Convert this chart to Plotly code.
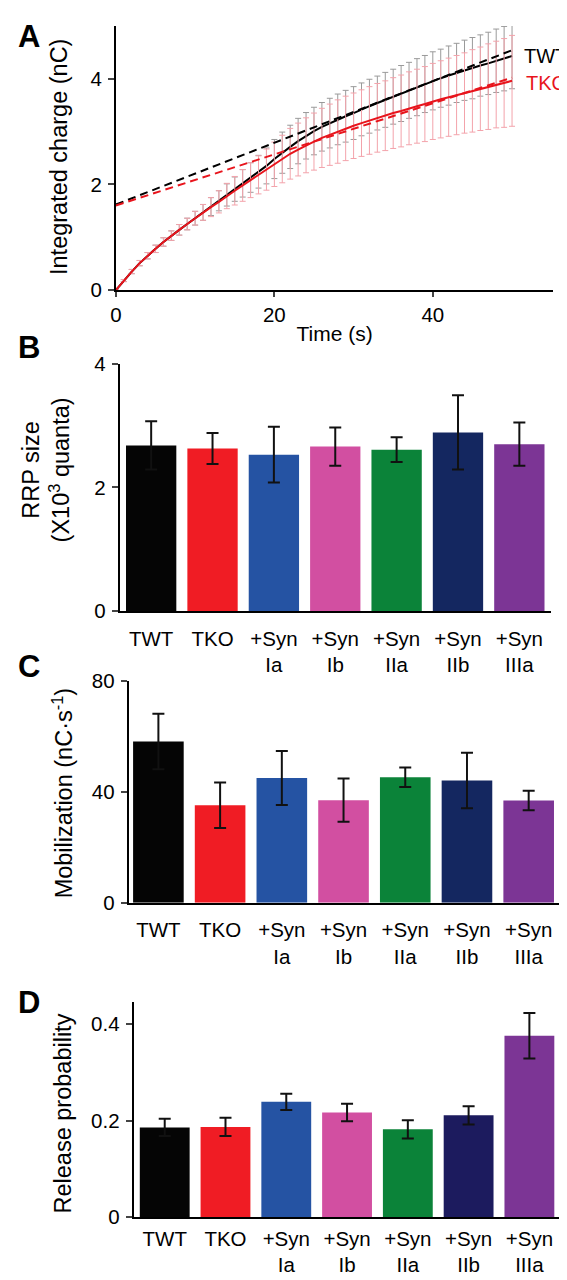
import plotly.graph_objects as go

# ---------------- Panel A data ----------------
time_s = list(range(51))
twt_mean = [0, 0.18, 0.35, 0.51, 0.65, 0.78, 0.91, 1.03, 1.14, 1.25,
            1.36, 1.47, 1.58, 1.69, 1.80, 1.91, 2.02, 2.13, 2.24, 2.35,
            2.48, 2.60, 2.71, 2.82, 2.92, 3.01, 3.09, 3.16, 3.23, 3.29,
            3.35, 3.42, 3.48, 3.54, 3.60, 3.66, 3.72, 3.78, 3.84, 3.90,
            3.96, 4.01, 4.06, 4.11, 4.16, 4.20, 4.25, 4.29, 4.34, 4.38, 4.43]
twt_sem = [0, 0.02, 0.04, 0.05, 0.06, 0.07, 0.08, 0.09, 0.10, 0.11,
           0.13, 0.15, 0.17, 0.19, 0.21, 0.23, 0.26, 0.28, 0.31, 0.34,
           0.37, 0.39, 0.41, 0.43, 0.44, 0.45, 0.46, 0.47, 0.48, 0.49,
           0.50, 0.50, 0.51, 0.51, 0.52, 0.52, 0.53, 0.53, 0.54, 0.54,
           0.55, 0.55, 0.56, 0.56, 0.57, 0.58, 0.58, 0.59, 0.60, 0.61, 0.62]
tko_mean = [0, 0.18, 0.35, 0.51, 0.65, 0.78, 0.91, 1.03, 1.14, 1.25,
            1.36, 1.47, 1.57, 1.67, 1.78, 1.88, 1.98, 2.08, 2.18, 2.28,
            2.38, 2.48, 2.58, 2.66, 2.74, 2.81, 2.88, 2.94, 3.00, 3.06,
            3.11, 3.16, 3.21, 3.26, 3.30, 3.35, 3.39, 3.44, 3.48, 3.52,
            3.57, 3.61, 3.65, 3.69, 3.73, 3.77, 3.81, 3.85, 3.89, 3.92, 3.96]
tko_sem = [0, 0.02, 0.04, 0.05, 0.06, 0.07, 0.08, 0.09, 0.10, 0.11,
           0.13, 0.15, 0.18, 0.21, 0.24, 0.27, 0.30, 0.33, 0.36, 0.39,
           0.42, 0.45, 0.48, 0.50, 0.52, 0.54, 0.56, 0.58, 0.60, 0.61,
           0.62, 0.63, 0.64, 0.65, 0.66, 0.67, 0.68, 0.69, 0.70, 0.71,
           0.72, 0.73, 0.74, 0.75, 0.76, 0.78, 0.79, 0.81, 0.82, 0.84, 0.86]
fit_t = [0, 50]
twt_fit = [1.62, 4.54]
tko_fit = [1.60, 4.02]

# ---------------- Bar panels data ----------------
groups = ["TWT", "TKO", "+Syn<br>Ia", "+Syn<br>Ib", "+Syn<br>IIa", "+Syn<br>IIb", "+Syn<br>IIIa"]
group_pos = [0, 1, 2, 3, 4, 5, 6]
bar_colors = ["#050505", "#f01c24", "#2553a3", "#d24fa1", "#0b8339", "#142760", "#7c3595"]
bar_colors_d = ["#050505", "#f01c24", "#2553a3", "#d24fa1", "#0b8339", "#1c1b5e", "#7c3595"]
rrp_size = [2.68, 2.63, 2.53, 2.66, 2.61, 2.89, 2.70]
rrp_err = [0.39, 0.25, 0.45, 0.31, 0.20, 0.60, 0.35]
mobilization = [58.2, 35.2, 45.0, 37.0, 45.3, 44.1, 36.9]
mobilization_err = [10.0, 8.2, 9.7, 7.8, 3.5, 10.0, 3.5]
release_prob = [0.186, 0.187, 0.239, 0.217, 0.182, 0.211, 0.376]
release_prob_err = [0.018, 0.019, 0.017, 0.018, 0.019, 0.019, 0.047]

W, H = 567, 1280
FONT = "Liberation Sans, Arial, sans-serif"
TICK = 20.5
TITLE = 23.5


def px_x(p):
    return p / W


def px_y(p):
    return 1 - p / H


fig = go.Figure()

# Panel A traces
fig.add_trace(go.Scatter(x=time_s, y=twt_mean, mode="lines",
                         line=dict(color="black", width=2),
                         error_y=dict(type="data", array=twt_sem, color="#9a9a9a", thickness=1, width=3),
                         xaxis="x", yaxis="y", showlegend=False))
fig.add_trace(go.Scatter(x=time_s, y=tko_mean, mode="lines",
                         line=dict(color="#e8141c", width=2),
                         error_y=dict(type="data", array=tko_sem, color="#f3a3ab", thickness=1, width=3),
                         xaxis="x", yaxis="y", showlegend=False))
fig.add_trace(go.Scatter(x=fit_t, y=twt_fit, mode="lines",
                         line=dict(color="black", width=2, dash="8px,5px"),
                         xaxis="x", yaxis="y", showlegend=False))
fig.add_trace(go.Scatter(x=fit_t, y=tko_fit, mode="lines",
                         line=dict(color="#e8141c", width=2, dash="8px,5px"),
                         xaxis="x", yaxis="y", showlegend=False))

# Bar panels
for vals, errs, cols, ax in [(rrp_size, rrp_err, bar_colors, "2"),
                             (mobilization, mobilization_err, bar_colors, "3"),
                             (release_prob, release_prob_err, bar_colors_d, "4")]:
    fig.add_trace(go.Bar(x=group_pos, y=vals, marker=dict(color=cols, line=dict(width=0)),
                         width=0.82,
                         error_y=dict(type="data", array=errs, color="#111111", thickness=2, width=6),
                         xaxis="x" + ax, yaxis="y" + ax, showlegend=False))

axis_common = dict(showline=True, linecolor="black", linewidth=2, showgrid=False, zeroline=False,
                   tickfont=dict(family=FONT, size=TICK, color="black"))
ytick = dict(ticks="outside", ticklen=6, tickwidth=2, ticklabelstandoff=2)

fig.update_layout(
    width=W, height=H, margin=dict(l=0, r=0, t=0, b=0),
    paper_bgcolor="white", plot_bgcolor="white",
    font=dict(family=FONT, color="black"),
    xaxis=dict(domain=[px_x(103), px_x(545)], range=[0, 55.2], tickvals=[0, 20, 40],
               ticks="outside", ticklen=5, tickwidth=2, anchor="y",
               title=dict(text="Time (s)", font=dict(family=FONT, size=21), standoff=2), **axis_common),
    yaxis=dict(domain=[px_y(275), px_y(6)], range=[0, 5], tickvals=[0, 2, 4], anchor="x",
               **ytick, **axis_common),
    xaxis2=dict(domain=[px_x(107), px_x(543)], range=[-0.51, 6.52], tickvals=group_pos, ticktext=groups,
                anchor="y2", ticks="", ticklabelstandoff=8, **axis_common),
    yaxis2=dict(domain=[px_y(602), px_y(350)], range=[0, 4], tickvals=[0, 2, 4], anchor="x2",
                **ytick, **axis_common),
    xaxis3=dict(domain=[px_x(116), px_x(552)], range=[-0.48, 6.51], tickvals=group_pos, ticktext=groups,
                anchor="y3", ticks="", ticklabelstandoff=8, **axis_common),
    yaxis3=dict(domain=[px_y(899), px_y(673)], range=[0, 80], tickvals=[0, 40, 80], anchor="x3",
                **ytick, **axis_common),
    xaxis4=dict(domain=[px_x(121), px_x(551)], range=[-0.51, 6.49], tickvals=group_pos, ticktext=groups,
                anchor="y4", ticks="", ticklabelstandoff=2, **axis_common),
    yaxis4=dict(domain=[px_y(1219), px_y(1000)], range=[0, 0.446], tickvals=[0, 0.2, 0.4], anchor="x4",
                **ytick, **axis_common),
)

annotations = []
# panel letters
for letter, y in [("A", 17), ("B", 333), ("C", 658), ("D", 1000)]:
    annotations.append(dict(text="<b>%s</b>" % letter, x=px_x(15), y=px_y(y), xref="paper", yref="paper",
                            showarrow=False, font=dict(family=FONT, size=31, color="black"),
                            xanchor="center", yanchor="middle"))
# y titles
for text, x, y in [("Integrated charge (nC)", 46, 140),
                   ("RRP size<br>(X10<sup>3</sup> quanta)", 33, 458),
                   ("Mobilization (nC·s<sup>-1</sup>)", 49, 787),
                   ("Release probability", 50, 1113)]:
    annotations.append(dict(text=text, x=px_x(x), y=px_y(y), xref="paper", yref="paper", textangle=-90,
                            showarrow=False, font=dict(family=FONT, size=TITLE, color="black"),
                            xanchor="center", yanchor="middle"))
# series labels in panel A
annotations.append(dict(text="TWT", x=px_x(561), y=px_y(37), xref="paper", yref="paper", showarrow=False,
                        font=dict(family=FONT, size=20, color="black"), xanchor="right", yanchor="middle"))
annotations.append(dict(text="TKO", x=px_x(561), y=px_y(64), xref="paper", yref="paper", showarrow=False,
                        font=dict(family=FONT, size=20, color="#e8141c"), xanchor="right", yanchor="middle"))
# significance star
annotations.append(dict(text="*", x=6, y=0.47, xref="x4", yref="y4", showarrow=False,
                        font=dict(family=FONT, size=22, color="black"), xanchor="center", yanchor="middle"))
fig.update_layout(annotations=annotations)

fig.write_html("out.html")
